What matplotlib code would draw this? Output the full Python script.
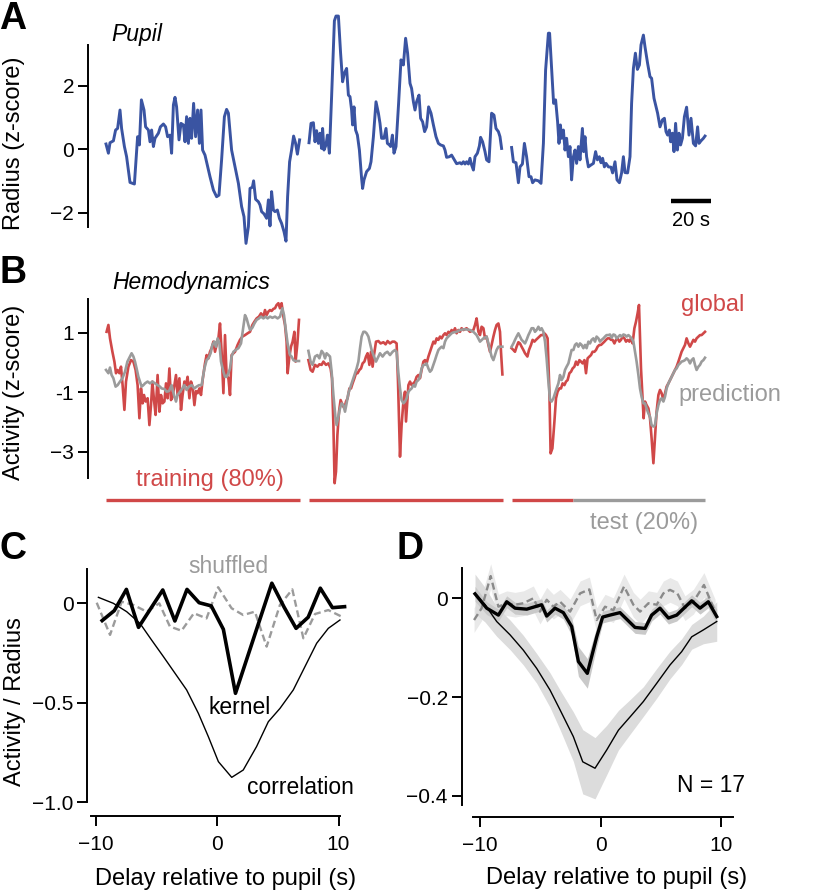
import numpy as np
import matplotlib.pyplot as plt

plt.rcParams['font.family'] = ['Liberation Sans', 'DejaVu Sans']

BLUE = '#3a54a2'
RED = '#d04848'
GRAY = '#9b9b9b'

# ---------------- data ----------------
nan = np.nan

# A: pupil radius (z-score), time in s, nan = break between recordings
pupil_t = [0.5, 1.7, 2.5, 4.2, 5.3, 6.3, 7.5, 8.3, 9.7, 10.8, 12.5, 14.7, 16.3, 17.2, 18.2, 19.5, 20.3, 21.7, 22.5, 23.3,
           24.2, 25.0, 26.7, 27.7, 29.2, 30.3, 31.3, 32.5, 33.3, 34.2, 35.0, 35.8, 37.0, 38.0, 39.2, 40.0, 40.8, 41.7, 42.5, 43.3,
           44.3, 45.3, 46.3, 47.2, 48.0, 48.8, 50.0, 52.5, 54.2, 55.8, 57.0, 58.3, 59.7, 60.8, 61.7, 63.3, 65.0, 66.7, 68.3, 69.5,
           70.5, 71.7, 72.5, 73.7, 74.3, 75.3, 76.7, 77.5, 78.3, 79.5, 80.8, 81.7, 82.5, 83.3, 84.2, 85.0, 86.2, 87.2, 88.3, 89.5,
           90.5, 91.3, 92.3, 93.3, 94.3, 95.3, 96.2, 97.3, nan,
           102.0, 103.0, 104.2, 105.0, 105.8, 106.7, 107.5, 108.3, 108.8, 109.5, 110.5, 111.2, 112.2, 113.3, 114.7, 115.5, 116.7,
           117.8, 118.8, 119.7, 120.8, 121.7, 122.5, 123.3, 123.8, 124.5, 125.3, 126.2, 127.2, 128.3, 128.8, 129.5, 130.8, 132.2,
           133.0, 134.2, 135.5, 136.7, 137.5, 138.3, 139.5, 140.5, 141.2, 142.2, 142.8, 143.7, 144.5, 145.5, 146.8, 148.0, 149.2,
           150.3, 151.3, 152.5, 153.3, 154.2, 155.0, 155.8, 157.0, 157.8, 158.8, 159.8, 160.8, 161.8, 163.0, 164.2, 165.5, 166.7,
           167.8, 169.2, 170.0, 170.8, 172.2, 173.3, 174.5, 175.8, 177.5, 178.3, 179.2, 180.0, 180.8, 181.7, 182.5, 183.3, 184.2,
           185.0, 186.2, 187.2, 187.8, 188.8, 190.0, 190.8, 192.0, 193.3, 194.5, 195.5, 196.7, 197.5, 198.3, nan,
           203.3, 204.2, 205.5, 206.7, 207.5, 208.7, 209.7, 210.8, 212.0, 213.0, 213.8, 215.0, 216.7, 218.0, 219.2, 220.3, 221.7,
           222.3, 223.3, 224.3, 225.3, 226.3, 227.0, 227.7, 228.3, 229.2, 230.0, 230.8, 231.7, 232.5, 233.3, 234.2, 235.0, 235.8,
           236.7, 237.5, 238.7, 239.3, 240.0, 240.8, 241.7, 243.0, 244.2, 245.3, 246.2, 247.2, 248.0, 248.8, 249.7, 250.5, 251.7,
           253.0, 253.8, 255.0, 256.0, 257.2, 258.3, 259.2, 260.0, 261.3, 262.5, 263.3, 264.2, 265.2, 266.2, 267.2, 268.0, 269.2,
           270.0, 271.3, 272.5, 273.3, 274.5, 275.3, 276.3, 277.5, 278.7, 279.7, 280.5, 281.3, 282.2, 282.8, 283.7, 284.5, 285.3,
           286.2, 287.0, 287.8, 288.7, 289.7, 290.8, 292.0, 293.0, 294.2, 295.3, 296.3, 297.0, 298.0, 299.2, 300.0]
pupil_v = [0.17, -0.12, 0.21, 0.27, 0.61, 0.66, 1.24, 0.66, 0.09, -0.23, -1.04, -1.09, 0.40, 0.14, 1.56, 1.24, 0.71, 0.61, 0.24, 0.61,
           0.09, 0.35, 0.51, 0.71, 0.80, 0.71, 0.40, 0.45, -0.12, 1.40, 1.64, 1.34, 0.30, 0.82, 0.77, 0.24, 1.03, 0.19, 0.98, 0.35,
           1.45, 0.40, 1.24, 0.19, 1.24, -0.02, -0.18, -0.86, -1.28, -1.49, -1.44, -0.33, 1.03, 1.26, 1.14, -0.02, -0.55, -1.07, -1.80, -2.12,
           -2.96, -2.43, -1.23, -1.19, -0.99, -1.57, -1.65, -1.75, -1.96, -2.03, -2.17, -1.59, -2.41, -1.33, -1.91, -1.96, -1.91, -2.17, -2.33, -2.59,
           -2.89, -1.49, -0.39, -0.02, 0.42, 0.19, -0.15, 0.30, nan,
           0.21, 0.82, 0.84, 0.24, 0.59, 0.19, 0.51, 0.03, 0.66, -0.02, 0.14, 0.45, -0.12, 1.66, 4.05, 4.20, 4.20,
           3.03, 2.13, 2.40, 2.55, 1.71, 1.66, 1.24, 0.77, 1.34, 0.61, 0.45, -0.02, -0.91, -1.23, -0.96, -0.70, -0.60,
           -0.39, 0.40, 1.50, 1.14, 0.82, 0.35, 0.35, 0.66, 0.19, 0.14, 0.09, 0.45, -0.12, 0.09, 1.45, 2.82, 2.66,
           3.50, 3.03, 2.08, 1.92, 1.50, 1.24, 1.50, 1.71, 0.98, 0.87, 0.56, 0.71, 1.34, 1.14, 0.77, 0.40, 0.19,
           0.14, 0.11, -0.02, -0.25, -0.23, -0.18, -0.31, -0.45, -0.42, -0.46, -0.39, -0.46, -0.39, -0.46, -0.28, -0.49, -0.65,
           -0.23, -0.12, 0.11, 0.38, 0.24, -0.07, -0.33, -0.39, 1.14, 1.08, 0.66, 0.56, 0.40, 0.03, nan,
           0.06, -0.39, -0.42, -1.05, -0.55, -0.46, 0.19, -0.23, -0.86, -0.86, -1.05, -0.96, -0.99, -1.07, 0.19, 2.50, 3.66,
           3.66, 2.55, 1.45, 1.56, 0.87, 0.19, 0.77, 0.35, 0.61, -0.02, 0.35, -0.23, 0.09, -0.96, -0.23, -0.02, -0.44,
           0.09, -0.33, 0.66, -0.07, 0.40, -0.23, -0.55, -0.49, -0.44, -0.07, -0.33, -0.23, -0.42, -0.28, -0.55, -0.44, -0.55,
           -0.56, -0.74, -0.39, -0.96, -1.05, -0.74, -0.23, -0.73, -0.74, -0.23, 1.45, 2.55, 3.03, 2.52, 2.66, 3.29, 3.60,
           3.23, 2.71, 2.29, 2.24, 1.61, 1.40, 1.14, 0.71, 0.93, 0.98, 0.56, 0.45, 0.61, 0.24, 0.51, -0.07, 0.82,
           -0.02, 0.51, 0.14, 0.35, 1.03, 1.33, 0.45, 0.98, 0.19, 0.11, 0.71, 0.19, 0.27, 0.35, 0.42]

# B: global hemodynamic activity (red) and model prediction (gray)
global_t = [0.8, 1.7, 2.5, 3.7, 4.7, 5.5, 6.3, 7.2, 8.0, 8.8, 9.7, 10.5, 11.7, 13.0, 14.2, 15.3, 16.3, 17.2, 18.0, 18.8,
            19.5, 20.3, 21.3, 22.2, 23.0, 23.7, 24.5, 25.3, 26.3, 27.2, 28.0, 28.8, 29.7, 30.5, 31.3, 32.2, 33.0, 33.8, 34.7, 35.5,
            36.3, 37.2, 38.0, 38.8, 39.7, 40.5, 41.3, 42.2, 43.0, 43.8, 44.7, 45.5, 46.3, 47.2, 48.0, 48.8, 50.0, 50.8, 51.7, 52.5,
            53.3, 54.2, 55.0, 55.8, 56.7, 57.5, 58.3, 59.2, 60.0, 60.8, 61.7, 62.5, 63.3, 64.2, 65.0, 66.3, 67.5, 68.7, 70.0, 71.3,
            72.5, 73.7, 74.7, 75.8, 77.0, 78.0, 79.2, 80.0, 80.8, 81.7, 82.5, 83.3, 84.2, 85.0, 85.8, 86.7, 87.5, 88.3, 89.2, 90.0,
            90.8, 91.3, 92.2, 93.0, 93.8, 94.7, 95.3, 96.2, 97.0, nan,
            101.7, 102.8, 103.8, 105.0, 106.2, 107.2, 108.3, 109.2, 110.5, 111.7, 112.8, 113.5, 114.2, 114.8, 115.5, 116.2, 117.0,
            117.8, 118.8, 119.7, 120.5, 121.3, 122.2, 123.0, 123.8, 124.7, 125.5, 126.3, 127.2, 128.0, 128.8, 129.7, 130.5, 131.3,
            132.2, 133.0, 133.8, 134.5, 135.5, 136.7, 137.8, 139.2, 140.3, 141.3, 142.5, 143.7, 144.7, 145.8, 146.5, 147.0, 147.5,
            148.3, 149.2, 150.0, 150.5, 151.7, 152.5, 153.3, 154.2, 155.0, 155.8, 156.7, 157.5, 158.3, 159.2, 160.0, 160.8, 161.7,
            162.5, 163.3, 164.2, 165.0, 165.8, 166.7, 167.5, 168.3, 169.2, 170.0, 170.8, 171.7, 172.5, 173.3, 174.2, 175.0, 175.8,
            176.7, 177.5, 178.3, 179.2, 180.8, 182.5, 184.2, 185.0, 185.8, 186.7, 187.5, 188.3, 189.2, 190.0, 190.8, 191.7, 192.5,
            193.3, 194.2, 195.0, 195.8, 196.7, 197.5, 198.0, 198.7, nan,
            203.3, 204.2, 205.0, 205.8, 206.7, 207.5, 208.3, 209.2, 210.0, 211.2, 212.0, 213.0, 213.8, 214.7, 215.5, 216.3, 217.2,
            218.0, 218.8, 219.7, 220.5, 221.3, 222.2, 222.8, 223.7, 224.7, 225.5, 226.3, 227.2, 228.0, 228.8, 229.7, 230.5, 231.3,
            232.2, 233.0, 233.8, 234.7, 235.5, 236.3, 237.2, 238.0, 238.8, 239.7, 240.5, 241.3, 242.2, 243.0, 243.8, 244.7, 245.5,
            246.3, 247.2, 248.0, 248.8, 249.7, 250.5, 251.3, 252.2, 253.0, 253.8, 254.7, 255.5, 256.3, 257.2, 258.0, 258.8, 259.7,
            260.5, 261.3, 262.2, 263.0, 263.8, 264.7, 265.5, 266.3, 267.0, 267.5, 268.0, 268.7, 269.3, 270.0, 270.8, 271.7, 272.5,
            273.3, 274.2, 275.0, 275.8, 276.7, 277.5, 278.3, 279.2, 280.0, 280.8, 281.7, 282.5, 283.3, 284.2, 285.0, 285.8, 286.7,
            287.5, 288.3, 289.2, 290.0, 290.8, 291.7, 292.5, 293.3, 294.2, 295.0, 295.8, 296.7, 297.5, 298.3, 299.2, 300.0]
global_v = [1.03, 1.26, 0.81, 0.36, 0.03, -0.36, -0.25, -0.36, -0.14, -0.76, -1.59, -0.64, -0.14, 0.08, 0.03, -0.25, -0.76, -1.87, -0.87, -1.37,
            -1.09, -1.31, -1.20, -2.10, -1.43, -0.64, -1.26, -1.76, -0.42, -1.65, -1.09, -1.37, -1.31, -0.70, -1.20, -0.20, -1.26, -1.15, -0.76, -0.42,
            -1.09, -0.53, -1.59, -1.09, -0.64, -0.76, -0.48, -1.20, -0.64, -0.81, -1.43, -0.96, -1.03, -0.87, -1.09, -0.59, -0.03, 0.25, 0.14, 0.36,
            0.48, 0.70, 0.36, 0.59, 0.81, 1.31, 0.36, -1.03, 0.92, -0.42, -0.53, -1.09, 0.25, 0.31, 0.36, 0.59, 0.76, 0.87, 0.92, 0.98,
            1.03, 1.26, 1.37, 1.48, 1.54, 1.65, 1.54, 1.76, 1.59, 1.71, 1.76, 1.73, 1.80, 1.82, 1.93, 1.99, 1.82, 1.99, 1.54, 1.26,
            0.70, -0.36, 0.20, 0.53, 0.70, 1.03, 0.03, 0.64, 1.43, nan,
            0.08, -0.25, -0.31, -0.08, -0.14, -0.06, -0.08, 0.03, -0.08, -0.03, -0.20, -0.53, -2.10, -4.05, -3.66, -2.43, -1.65,
            -1.26, -1.43, -1.54, -1.31, -1.20, -0.87, -0.87, -0.70, -0.53, -0.36, -0.36, -0.25, -0.20, -0.03, 0.03, 0.20, 0.31,
            -0.08, 0.36, -0.14, 0.25, 0.70, 0.72, 0.64, 0.68, 0.61, 0.72, 0.64, 0.70, 0.70, 0.64, -0.64, -1.87, -3.16,
            -2.10, -1.31, -0.98, -1.98, -0.76, -0.64, -0.76, -0.70, -0.64, -0.48, -0.42, -0.53, -0.25, 0.03, 0.08, -0.03, 0.20,
            0.36, 0.53, 0.70, 0.64, 0.81, 0.76, 0.87, 0.81, 0.92, 0.98, 0.92, 1.03, 0.98, 1.09, 1.03, 1.15, 0.98,
            1.09, 1.03, 1.15, 1.09, 1.15, 1.03, 1.09, 1.26, 1.48, 1.03, 0.92, 1.20, 1.15, 0.81, 0.87, 0.59, 0.36,
            0.59, 0.87, 1.09, 1.26, 1.31, 1.03, 0.36, -0.40, nan,
            0.48, 0.42, 0.36, 0.53, 0.68, 0.64, 0.53, 0.42, 0.31, 0.20, 0.42, 0.59, 0.76, 0.70, 0.76, 0.81, 0.87,
            0.92, 0.92, 0.98, 0.92, 0.81, -0.98, -3.05, -2.88, -1.99, -1.20, -0.98, -0.87, -0.87, -0.70, -0.76, -0.64, -0.59,
            -0.36, -0.31, -0.20, -0.14, 0.03, -0.08, 0.08, 0.03, -0.03, 0.08, -0.36, 0.14, 0.20, 0.25, 0.36, 0.36, 0.42,
            0.53, 0.59, 0.59, 0.64, 0.70, 0.76, 0.81, 0.81, 0.76, 0.76, 0.64, 0.76, 0.81, 0.70, 0.76, 0.87, 0.81,
            0.70, 0.76, 0.70, 0.81, 0.64, 1.15, 1.37, 1.65, 1.93, 0.81, -0.20, -1.09, -1.87, -1.31, -1.43, -1.54, -1.87,
            -2.54, -3.38, -2.54, -1.65, -1.09, -0.92, -1.03, -1.26, -1.03, -0.81, -0.70, -0.59, -0.48, -0.36, -0.25, -0.14, 0.03,
            0.20, 0.36, 0.48, 0.59, 0.81, 0.64, 0.53, 0.64, 0.76, 0.70, 0.81, 0.87, 0.92, 0.92, 0.98, 1.03]

pred_t = [0.5, 1.7, 2.5, 3.3, 4.2, 5.3, 6.3, 7.5, 8.7, 10.0, 11.2, 12.5, 13.3, 14.2, 15.0, 15.8, 16.7, 17.5, 18.3, 19.2,
          20.0, 21.3, 22.5, 23.7, 25.0, 26.3, 27.5, 28.3, 29.7, 30.8, 32.0, 33.3, 34.5, 35.5, 36.3, 37.5, 38.7, 39.7, 40.8, 42.0,
          43.3, 44.7, 45.8, 47.0, 48.3, 49.7, 50.8, 51.7, 52.8, 53.7, 54.7, 55.5, 56.3, 57.2, 58.0, 59.2, 60.0, 60.8, 61.7, 62.5,
          63.3, 64.2, 65.3, 66.7, 68.0, 69.2, 70.0, 70.8, 71.7, 72.5, 73.7, 74.7, 75.8, 77.0, 78.0, 79.2, 80.3, 81.3, 82.5, 83.7,
          85.0, 86.3, 87.5, 88.7, 89.5, 90.3, 91.3, 92.5, 93.3, 94.2, 95.0, 97.0, nan,
          101.7, 102.8, 103.8, 105.0, 106.2, 107.2, 108.3, 109.2, 110.0, 110.8, 111.7, 112.5, 113.3, 114.2, 115.2, 115.8, 116.7,
          117.5, 118.3, 119.2, 120.0, 120.8, 121.7, 122.5, 123.3, 124.2, 125.0, 125.8, 126.7, 127.5, 128.3, 129.2, 130.0, 130.8,
          131.7, 132.5, 133.3, 134.5, 135.5, 136.3, 137.5, 138.8, 140.0, 141.2, 142.5, 143.8, 145.0, 145.8, 146.7, 147.5, 148.3,
          149.2, 150.0, 150.8, 151.7, 152.5, 153.3, 154.2, 155.0, 155.8, 156.7, 157.5, 158.3, 159.2, 160.0, 160.8, 161.7, 162.5,
          163.3, 164.2, 165.0, 165.8, 166.7, 167.5, 168.3, 169.2, 170.0, 170.8, 171.7, 172.5, 173.3, 174.2, 175.8, 177.5, 179.2,
          180.8, 182.5, 184.2, 185.8, 187.5, 189.2, 190.8, 191.7, 192.5, 193.3, 194.2, 195.0, 195.8, 196.7, 197.5, 198.7, nan,
          203.3, 204.2, 205.0, 205.8, 206.7, 207.5, 208.3, 209.2, 210.0, 210.8, 211.7, 212.5, 213.3, 214.2, 215.0, 215.8, 216.7,
          217.5, 218.3, 219.2, 220.0, 220.8, 221.7, 222.5, 223.3, 224.2, 225.0, 225.8, 226.7, 227.5, 228.3, 229.2, 230.0, 230.8,
          231.7, 232.5, 233.3, 234.2, 235.0, 235.8, 236.7, 237.5, 238.3, 239.2, 240.0, 240.8, 241.7, 242.5, 243.3, 244.2, 245.0,
          245.8, 246.7, 247.5, 248.3, 249.2, 250.0, 250.8, 251.7, 252.5, 253.3, 254.2, 255.0, 255.8, 256.7, 257.5, 258.3, 259.2,
          260.0, 260.8, 261.7, 262.5, 263.3, 264.2, 265.0, 265.8, 266.7, 267.5, 268.3, 269.2, 270.0, 270.8, 271.7, 272.5, 273.3,
          274.2, 275.0, 275.8, 276.7, 277.5, 278.3, 279.2, 280.0, 280.8, 281.7, 282.5, 283.3, 284.2, 285.0, 285.8, 286.7, 287.5,
          288.3, 289.2, 290.0, 290.8, 291.7, 292.5, 293.3, 294.2, 295.0, 295.8, 296.7, 297.5, 298.3, 299.2, 300.0]
pred_v = [-0.25, -0.36, -0.17, -0.42, -0.53, -0.81, -0.76, -0.64, -0.53, -0.31, 0.03, 0.20, 0.31, 0.20, 0.03, -0.20, -0.48, -0.64, -0.81, -0.76,
          -0.70, -0.64, -0.70, -0.64, -0.70, -0.76, -0.81, -0.87, -0.89, -0.98, -0.96, -0.76, -1.09, -1.31, -1.09, -0.98, -0.87, -0.76, -0.92, -0.81,
          -0.76, -0.87, -0.81, -0.76, -0.76, -0.20, 0.08, 0.14, 0.31, 0.59, 0.70, 0.53, 0.81, 0.64, 0.03, -0.31, -0.48, -0.48, -0.36, -0.20,
          0.20, 0.36, 0.42, 0.48, 0.64, 1.20, 1.59, 1.48, 1.26, 1.09, 1.17, 1.31, 1.43, 1.48, 1.54, 1.48, 1.54, 1.48, 1.54, 1.50,
          1.54, 1.48, 1.54, 1.82, 1.59, 1.15, 0.64, 0.25, 0.20, 0.08, 0.05, 0.05, nan,
          0.39, 0.03, -0.08, 0.20, 0.25, 0.14, 0.39, 0.31, 0.14, 0.31, 0.25, 0.20, -0.31, -1.09, -1.82, -2.10, -1.82,
          -1.54, -1.37, -1.43, -1.65, -1.37, -1.03, -0.87, -0.70, -0.53, -0.36, -0.20, 0.03, 0.48, 0.87, 1.03, 1.03, 0.98,
          0.87, 0.64, 0.42, 0.20, 0.03, 0.14, 0.31, 0.20, 0.31, 0.36, 0.25, 0.36, 0.42, 0.36, -0.36, -0.87, -1.26,
          -1.37, -1.31, -1.20, -0.98, -0.92, -0.87, -0.76, -0.81, -0.64, -0.59, -0.48, -0.20, -0.08, -0.08, -0.03, -0.20, -0.31,
          -0.25, -0.08, 0.08, 0.25, 0.42, 0.48, 0.53, 0.48, 0.70, 0.81, 0.87, 0.92, 0.98, 1.01, 1.03, 1.09, 1.11,
          1.11, 1.09, 1.03, 0.92, 0.70, 0.81, 0.87, 0.64, 0.42, 0.20, 0.08, 0.25, 0.42, 0.53, 0.53, 0.53, nan,
          0.53, 0.64, 0.76, 0.87, 0.98, 0.87, 0.76, 0.70, 0.64, 0.76, 0.92, 1.03, 1.15, 1.15, 1.03, 1.09, 1.20,
          1.09, 1.15, 1.03, 0.70, 0.14, -0.64, -1.26, -1.31, -1.20, -1.03, -0.87, -0.70, -0.42, -0.59, -0.48, -0.25, -0.14,
          -0.03, 0.20, 0.42, 0.42, 0.59, 0.64, 0.53, 0.64, 0.59, 0.48, 0.59, 0.48, 0.70, 0.64, 0.76, 0.81, 0.70,
          0.87, 0.81, 0.70, 0.76, 0.81, 0.87, 0.92, 0.92, 0.94, 0.83, 0.94, 0.92, 0.81, 0.87, 0.92, 0.87, 0.94,
          0.92, 0.87, 0.92, 0.87, 0.81, 0.70, 0.36, 0.03, -0.42, -0.87, -1.15, -1.37, -1.37, -1.54, -1.71, -1.82, -2.10,
          -2.15, -2.10, -1.71, -1.43, -1.26, -1.20, -1.31, -1.15, -0.87, -0.70, -0.59, -0.48, -0.36, -0.25, -0.20, -0.08, -0.03,
          0.03, 0.05, 0.08, 0.14, 0.08, -0.03, 0.08, 0.14, -0.08, -0.25, -0.14, -0.08, 0.03, 0.08, 0.16]

train_spans = [(0.5, 97.5), (102.0, 199.0), (203.5, 234.0)]
test_span = (234.0, 300.0)

# C: single session, delay (s)
c_kernel_t = [-9.5, -8.5, -7.5, -6.5, -5.5, -4.5, -3.5, -2.5, -1.5, -0.5, 0.5, 1.5, 2.5, 3.5, 4.5, 5.5, 6.5, 7.5, 8.5, 9.5, 10.5]
c_kernel_v = [-0.087, -0.037, 0.070, -0.121, -0.027, 0.067, -0.089, 0.070, 0.003, -0.013, -0.131, -0.453, -0.268, -0.083,
              0.101, -0.018, -0.126, -0.070, 0.076, -0.022, -0.017]
c_shuf_t = [-9.95, -8.85, -7.89, -6.93, -5.83, -4.79, -3.91, -2.95, -1.93, -0.89, 0.07, 1.18, 2.14, 3.10, 4.07, 5.17, 6.19,
            7.10, 8.06, 9.16, 10.26]
c_shuf_v = [0.003, -0.159, 0.008, -0.008, -0.042, 0.0, -0.117, -0.138, -0.050, -0.076, 0.081, -0.025, -0.059, -0.042, -0.218,
            -0.008, 0.070, -0.176, -0.054, -0.034, -0.067]
c_corr_t = [-9.81, -8.58, -7.48, -6.38, -5.42, -4.45, -3.49, -2.53, -1.56, -0.74, 0.09, 1.19, 2.14, 3.24, 4.21, 5.17, 6.27,
            7.23, 8.20, 9.16, 10.12]
c_corr_v = [0.030, 0.0, -0.042, -0.101, -0.185, -0.268, -0.352, -0.436, -0.554, -0.671, -0.797, -0.876, -0.839, -0.721, -0.596,
            -0.529, -0.436, -0.319, -0.201, -0.126, -0.084]

# D: population mean (N = 17) with sem
d_kernel_t = [-10.43, -9.46, -8.49, -7.80, -7.11, -6.14, -4.90, -4.48, -3.79, -3.10, -2.41, -1.85, -1.11, -0.33, 0.16, 0.77,
              1.60, 2.85, 3.68, 4.23, 4.92, 5.62, 6.31, 7.55, 8.24, 8.93, 9.63]
d_kernel_v = [0.009, -0.020, -0.034, -0.007, -0.020, -0.022, -0.013, -0.036, -0.020, -0.029, -0.057, -0.128, -0.152, -0.078,
              -0.038, -0.034, -0.029, -0.059, -0.061, -0.034, -0.020, -0.040, -0.034, -0.005, -0.020, -0.007, -0.037]
d_kernel_sem = [0.015, 0.013, 0.012, 0.012, 0.012, 0.012, 0.012, 0.012, 0.012, 0.013, 0.018, 0.030, 0.030, 0.020, 0.012,
                0.012, 0.012, 0.012, 0.012, 0.012, 0.012, 0.012, 0.012, 0.012, 0.012, 0.012, 0.015]
d_corr_t = [-10.43, -9.60, -8.63, -7.52, -6.42, -5.31, -4.20, -3.37, -2.27, -1.49, -0.47, 0.50, 1.47, 2.44, 3.54, 4.65, 5.75,
            6.72, 7.55, 8.52, 9.63]
d_corr_v = [0.009, -0.013, -0.047, -0.074, -0.105, -0.142, -0.186, -0.226, -0.280, -0.331, -0.344, -0.307, -0.267, -0.240,
            -0.209, -0.172, -0.135, -0.108, -0.078, -0.064, -0.047]
d_corr_sem = [0.040, 0.035, 0.030, 0.030, 0.030, 0.030, 0.035, 0.040, 0.050, 0.065, 0.062, 0.050, 0.040, 0.035, 0.030, 0.030,
              0.028, 0.026, 0.025, 0.028, 0.040]
d_shuf_t = [-10.51, -9.88, -9.13, -8.49, -7.80, -7.11, -6.42, -5.59, -5.04, -4.48, -3.93, -3.37, -2.54, -1.71, -0.94, -0.33,
            0.36, 1.05, 1.94, 2.71, 3.27, 3.96, 4.65, 5.20, 5.75, 6.36, 6.99, 7.69, 8.57, 9.49]
d_shuf_v = [-0.044, -0.020, 0.045, -0.017, -0.010, -0.013, -0.010, 0.0, -0.027, -0.003, -0.017, -0.007, -0.027, 0.010, 0.018,
            -0.044, -0.017, -0.024, 0.024, -0.013, -0.027, -0.010, -0.013, 0.010, 0.017, 0.010, -0.020, -0.007, 0.027, -0.027]
d_shuf_sem = 0.025
n_sessions = 17
scalebar_s = 20

# ---------------- layout ----------------
W, H = 819, 894
fig = plt.figure(figsize=(W / 100, H / 100), dpi=100)


def add_ax(left, top, right, bottom):
    return fig.add_axes([left / W, 1 - bottom / H, (right - left) / W, (bottom - top) / H])


def ftext(x, y, s, **kw):
    fig.text(x / W, 1 - y / H, s, **kw)


def style(ax, left_bounds, bottom_bounds=None):
    for s in ['top', 'right']:
        ax.spines[s].set_visible(False)
    ax.spines['left'].set_linewidth(1.4)
    ax.spines['left'].set_bounds(*left_bounds)
    if bottom_bounds is None:
        ax.spines['bottom'].set_visible(False)
        ax.set_xticks([])
    else:
        ax.spines['bottom'].set_linewidth(1.4)
        ax.spines['bottom'].set_bounds(*bottom_bounds)
    ax.tick_params(direction='out', length=7, width=1.4, labelsize=15, pad=3)
    ax.tick_params(axis='x', pad=7)
    ax.patch.set_alpha(0)


lbl = dict(fontsize=17, ha='center', va='center')
letter = dict(fontsize=27, fontweight='bold', ha='center', va='center')

# ---- A ----
axA = add_ax(88, 10, 720, 250)
axA.plot(pupil_t, pupil_v, color=BLUE, lw=2.1, clip_on=False)
axA.set_xlim(-8.5, 307.5)
axA.set_ylim((149.4 - 250) / 31.75, (149.4 - 10) / 31.75)
axA.set_yticks([2, 0, -2])
axA.set_yticklabels(['2', '0', '\u22122'])
style(axA, (-2.44, 3.29))
axA.plot([283, 283 + scalebar_s], [-1.62, -1.62], color='black', lw=3.2, solid_capstyle='butt', clip_on=False)
axA.text(293, -2.23, f'{scalebar_s} s', fontsize=14.5, ha='center', va='center')
ftext(111, 35, 'Pupil', fontsize=16.5, style='italic', ha='left', va='center')
ftext(14, 143, 'Radius (z-score)', rotation=90, **lbl)
ftext(13, 19, 'A', **letter)

# ---- B ----
axB = add_ax(88, 285, 720, 530)
axB.plot(global_t, global_v, color=RED, lw=1.9, clip_on=False)
axB.plot(pred_t, pred_v, color=GRAY, lw=1.9, clip_on=False)
for a, b in train_spans:
    axB.plot([a, b], [-4.61, -4.61], color=RED, lw=2.4, solid_capstyle='butt', clip_on=False)
axB.plot(test_span, [-4.61, -4.61], color=GRAY, lw=2.4, solid_capstyle='butt', clip_on=False)
axB.set_xlim(-8.5, 307.5)
axB.set_ylim((362.5 - 530) / 29.8, (362.5 - 285) / 29.8)
axB.set_yticks([1, -1, -3])
axB.set_yticklabels(['1', '-1', '\u22123'])
style(axB, (-3.89, 2.12))
axB.text(52.5, -3.94, 'training (80%)', color=RED, fontsize=17, ha='center', va='center')
axB.text(269.7, -5.39, 'test (20%)', color=GRAY, fontsize=17, ha='center', va='center')
axB.text(288, 1.93, 'global', color=RED, fontsize=17, ha='left', va='center')
axB.text(286.5, -1.09, 'prediction', color=GRAY, fontsize=17, ha='left', va='center')
ftext(112, 283, 'Hemodynamics', fontsize=16.5, style='italic', ha='left', va='center')
ftext(14, 392, 'Activity (z-score)', rotation=90, **lbl)
ftext(13, 273, 'B', **letter)

# ---- C ----
axC = add_ax(87.3, 560, 350, 816)
axC.plot(c_corr_t, c_corr_v, color='black', lw=1.0)
axC.plot(c_shuf_t, c_shuf_v, color=GRAY, lw=1.7, ls=(0, (3, 1.6)))
axC.plot(c_kernel_t, c_kernel_v, color='black', lw=2.6)
axC.set_xlim((87.3 - 217.3) / 12.12, (350 - 217.3) / 12.12)
axC.set_ylim((603.3 - 816) / 198.7, (603.3 - 560) / 198.7)
axC.set_xticks([-10, 0, 10])
axC.set_xticklabels(['\u221210', '0', '10'])
axC.set_yticks([0, -0.5, -1.0])
axC.set_yticklabels(['0', '\u22120.5', '\u22121.0'])
style(axC, (-1.0, 0.171), (-10.45, 10.12))
axC.text(0.88, 0.183, 'shuffled', color=GRAY, fontsize=16.5, ha='center', va='center')
axC.text(1.87, -0.522, 'kernel', color='black', fontsize=16.5, ha='center', va='center')
axC.text(6.83, -0.929, 'correlation', color='black', fontsize=16.5, ha='center', va='center')
ftext(15, 702, 'Activity / Radius', rotation=90, **lbl)
ftext(226, 879, 'Delay relative to pupil (s)', **lbl)
ftext(13, 549, 'C', **letter)

# ---- D ----
axD = add_ax(461.7, 560, 745, 816.7)
ks = np.array(d_kernel_v)
ke = np.array(d_kernel_sem)
cs = np.array(d_corr_v)
ce = np.array(d_corr_sem)
ss = np.array(d_shuf_v)
axD.fill_between(d_shuf_t, ss - d_shuf_sem, ss + d_shuf_sem, color='#e9e9e9', lw=0)
axD.fill_between(d_corr_t, cs - ce, cs + ce, color='#dcdcdc', lw=0)
axD.fill_between(d_kernel_t, ks - ke, ks + ke, color='#c9c9c9', lw=0)
axD.plot(d_corr_t, d_corr_v, color='black', lw=1.0)
axD.plot(d_shuf_t, d_shuf_v, color='#8a8a8a', lw=1.7, ls=(0, (3, 1.6)))
axD.plot(d_kernel_t, d_kernel_v, color='black', lw=2.4)
axD.set_xlim((461.7 - 600.7) / 12.05, (745 - 600.7) / 12.05)
axD.set_ylim((598.3 - 816.7) / 494, (598.3 - 560) / 494)
axD.set_xticks([-10, 0, 10])
axD.set_xticklabels(['\u221210', '0', '10'])
axD.set_yticks([0, -0.2, -0.4])
axD.set_yticklabels(['0', '\u22120.2', '\u22120.4'])
style(axD, (-0.418, 0.061), (-10.57, 10.95))
axD.text(9.15, -0.378, f'N = {n_sessions}', fontsize=16.5, ha='center', va='center')
ftext(617, 878, 'Delay relative to pupil (s)', **lbl)
ftext(410, 549, 'D', **letter)

fig.savefig('out.png', dpi=100)
